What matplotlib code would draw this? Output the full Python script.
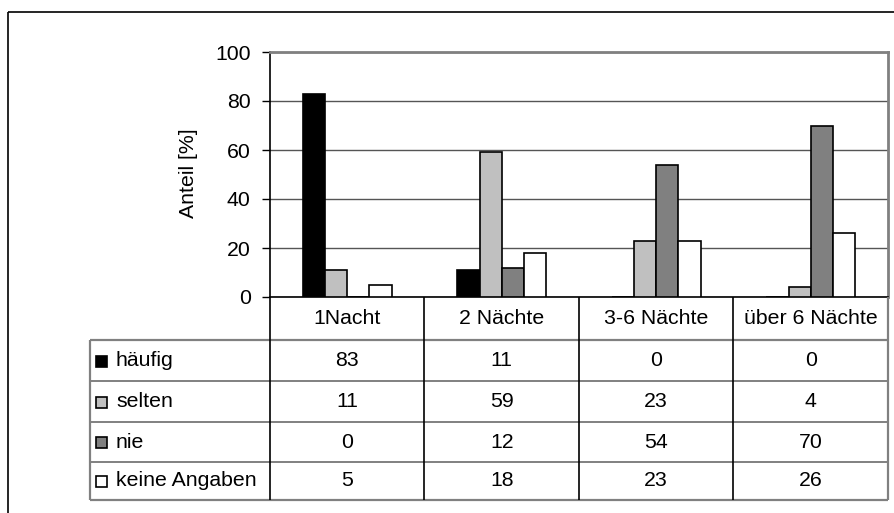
import matplotlib
matplotlib.use("Agg")
import matplotlib.pyplot as plt
from matplotlib.lines import Line2D
from matplotlib.patches import Rectangle
import numpy as np

# ---- data ----
categories = ['1Nacht', '2 Nächte', '3-6 Nächte', 'über 6 Nächte']
series_names = ['häufig', 'selten', 'nie', 'keine Angaben']
haeufig = [83, 11, 0, 0]
selten = [11, 59, 23, 4]
nie = [0, 12, 54, 70]
keine_angaben = [5, 18, 23, 26]
y_ticks = [0, 20, 40, 60, 80, 100]
y_label = 'Anteil [%]'

series = [haeufig, selten, nie, keine_angaben]
colors = ['#000000', '#C0C0C0', '#808080', '#FFFFFF']

plt.rcParams['font.family'] = ['Liberation Sans', 'DejaVu Sans']
FS = 15.3

W, H = 895, 513
fig = plt.figure(figsize=(W / 100, H / 100), dpi=100)

def fx(x):
    return x / W

def fy(y):
    return 1 - y / H

# plot area in pixels
PL, PR, PT, PB = 270, 888, 52, 297
ax = fig.add_axes([fx(PL), fy(PB), (PR - PL) / W, (PB - PT) / H])

n = len(categories)
x = np.arange(n)
w = 0.144
for i, (vals, c) in enumerate(zip(series, colors)):
    ax.bar(x + (i - 1.5) * w, vals, w, color=c, edgecolor='black',
           linewidth=1.2, zorder=3)

ax.set_xlim(-0.5, n - 0.5)
ax.set_ylim(0, 100)
ax.set_yticks(y_ticks)
ax.set_yticklabels([str(t) for t in y_ticks])
ax.set_xticks([])
ax.yaxis.grid(True, color='#555555', linewidth=1, zorder=0)
ax.set_axisbelow(True)
ax.tick_params(axis='y', direction='out', length=6, width=1, color='black',
               pad=8, labelsize=FS)
for s in ['top', 'right']:
    ax.spines[s].set_color('#808080')
    ax.spines[s].set_linewidth(2)
for s in ['left', 'bottom']:
    ax.spines[s].set_color('black')
    ax.spines[s].set_linewidth(1.2)

fig.text(fx(189), fy(173), y_label, rotation=90, ha='center', va='center',
         fontsize=FS)

# ---- outer frame ----
def line(xs, ys, color='black', lw=1.0):
    fig.add_artist(Line2D([fx(v) for v in xs], [fy(v) for v in ys],
                          transform=fig.transFigure, color=color, lw=lw,
                          solid_capstyle='butt'))

line([8, W], [12, 12], color='black', lw=1.2)
line([8, 8], [12, H], color='black', lw=1.2)

# ---- data table ----
TL = 90
rows_y = [297, 340, 381, 422, 462, 500]
col_w = (PR - PL) / n
col_x = [PL + k * col_w for k in range(n + 1)]

# horizontal lines
line([TL, PR], [rows_y[1]] * 2, color='#808080', lw=1.6)
for yy in rows_y[2:5]:
    line([TL, PR], [yy] * 2, color='#808080', lw=1.4)
line([TL, PR], [rows_y[5]] * 2, color='#808080', lw=1.6)
# vertical lines
for k, xx in enumerate(col_x):
    if k == n:
        line([xx, xx], [rows_y[0], rows_y[5]], color='#808080', lw=1.6)
    else:
        line([xx, xx], [rows_y[0], rows_y[5]], color='black', lw=1.2)
line([TL, TL], [rows_y[1], rows_y[5]], color='#808080', lw=1.6)

# header texts
hy = (rows_y[0] + rows_y[1]) / 2
for k, cat in enumerate(categories):
    cx = (col_x[k] + col_x[k + 1]) / 2
    fig.text(fx(cx), fy(hy), cat, ha='center', va='center', fontsize=FS)

# rows
for r, (name, vals, c) in enumerate(zip(series_names, series, colors)):
    cy = (rows_y[r + 1] + rows_y[r + 2]) / 2
    fig.add_artist(Rectangle((fx(96.5), fy(cy + 6)), 11 / W, 11 / H,
                             transform=fig.transFigure, facecolor=c,
                             edgecolor='black', lw=1.2))
    fig.text(fx(116), fy(cy), name, ha='left', va='center', fontsize=FS)
    for k, v in enumerate(vals):
        cx = (col_x[k] + col_x[k + 1]) / 2
        fig.text(fx(cx), fy(cy), str(v), ha='center', va='center',
                 fontsize=FS)

fig.savefig('out.png', dpi=100)
